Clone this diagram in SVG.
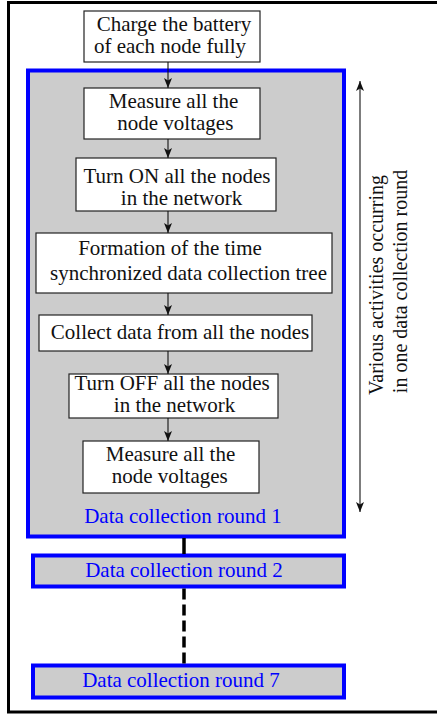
<svg xmlns="http://www.w3.org/2000/svg" width="437" height="715" viewBox="0 0 437 715">
<defs>
<style>
.t{font-family:"Liberation Serif","Times New Roman",serif;font-size:21px;fill:#111;text-anchor:middle}
.b{font-family:"Liberation Serif","Times New Roman",serif;font-size:21px;fill:#0000ff;text-anchor:middle}
.v{font-family:"Liberation Serif","Times New Roman",serif;font-size:20px;fill:#111;text-anchor:middle}
.box{fill:#ffffff;stroke:#222;stroke-width:1.2}
.round{fill:#cccccc;stroke:#0000ff;stroke-width:4}
.arr{stroke:#111;stroke-width:1.1;fill:none}
</style>
<marker id="ah" viewBox="0 0 10 10" refX="10" refY="5" markerWidth="10" markerHeight="10" markerUnits="userSpaceOnUse" orient="auto-start-reverse">
<path d="M0,1 L10,5 L0,9 L2.5,5 Z" fill="#111"/>
</marker>
</defs>
<rect x="0" y="0" width="437" height="715" fill="#ffffff"/>
<rect x="8.5" y="2.5" width="440" height="709.5" fill="none" stroke="#000" stroke-width="3"/>

<g id="round1">
<rect class="round" x="28" y="70.5" width="316" height="466"/>
<text class="b" x="183" y="523">Data collection round 1</text>
</g>
<g id="round2">
<rect class="round" x="33" y="555.5" width="311" height="31"/>
<text class="b" x="184" y="577">Data collection round 2</text>
</g>
<g id="round7">
<rect class="round" x="33" y="665.5" width="311" height="32"/>
<text class="b" x="181" y="687">Data collection round 7</text>
</g>

<g id="charge">
<rect class="box" x="84" y="11" width="176" height="51"/>
<text class="t" x="174" y="30.7">Charge the battery</text>
<text class="t" x="170" y="52.7">of each node fully</text>
</g>
<g id="measure1">
<rect class="box" x="84" y="88" width="176" height="51"/>
<text class="t" x="173.5" y="107.5">Measure all the</text>
<text class="t" x="175.3" y="129.5">node voltages</text>
</g>
<g id="turnon">
<rect class="box" x="76" y="158" width="200" height="53"/>
<text class="t" x="177" y="183">Turn ON all the nodes</text>
<text class="t" x="181.5" y="205">in the network</text>
</g>
<g id="formation">
<rect class="box" x="36" y="233" width="296" height="60"/>
<text class="t" x="170" y="255">Formation of the time</text>
<text class="t" x="188.5" y="280">synchronized data collection tree</text>
</g>
<g id="collect">
<rect class="box" x="39" y="315" width="273" height="36"/>
<text class="t" x="180" y="339.3">Collect data from all the nodes</text>
</g>
<g id="turnoff">
<rect class="box" x="69" y="374" width="209" height="44"/>
<text class="t" x="172" y="389.5">Turn OFF all the nodes</text>
<text class="t" x="174.5" y="411.5">in the network</text>
</g>
<g id="measure2">
<rect class="box" x="83" y="441" width="176" height="52"/>
<text class="t" x="170.5" y="460.5">Measure all the</text>
<text class="t" x="169.7" y="482.5">node voltages</text>
</g>

<g id="span-label">
<text class="v" transform="translate(383,285) rotate(-90)">Various activities occurring</text>
<text class="v" transform="translate(407,281.5) rotate(-90)">in one data collection round</text>
</g>

<g id="connectors">
<line class="arr" x1="168" y1="62" x2="168" y2="88" marker-end="url(#ah)"/>
<line class="arr" x1="168" y1="139" x2="168" y2="158" marker-end="url(#ah)"/>
<line class="arr" x1="168" y1="211" x2="168" y2="233" marker-end="url(#ah)"/>
<line class="arr" x1="168" y1="293" x2="168" y2="315" marker-end="url(#ah)"/>
<line class="arr" x1="168" y1="351" x2="168" y2="374" marker-end="url(#ah)"/>
<line class="arr" x1="168" y1="418" x2="168" y2="441" marker-end="url(#ah)"/>
<line class="arr" x1="360" y1="81" x2="360" y2="512" marker-start="url(#ah)" marker-end="url(#ah)"/>
<line x1="184" y1="538" x2="184" y2="554" stroke="#000" stroke-width="3.5"/>
<line x1="184" y1="588.5" x2="184" y2="663.5" stroke="#000" stroke-width="3.5" stroke-dasharray="11 5"/>
</g>
</svg>
